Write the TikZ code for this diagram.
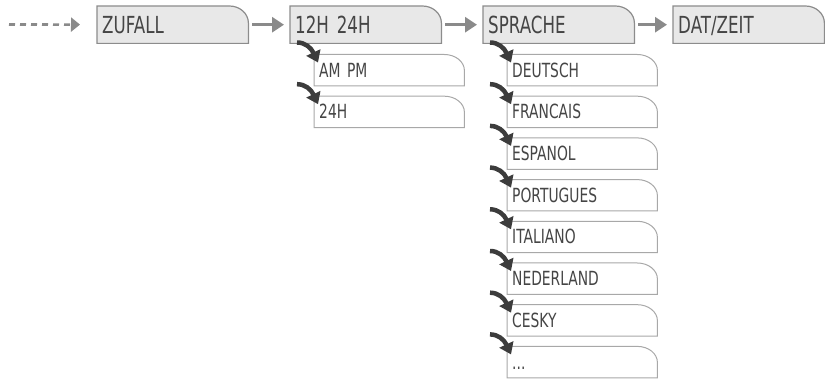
\documentclass[tikz,border=0pt]{standalone}
\usepackage{fontspec}
\newfontfamily\lcd[FakeStretch=0.71]{DejaVu Sans}
\usetikzlibrary{arrows.meta,backgrounds}
\definecolor{boxfill}{HTML}{E8E8E8}
\definecolor{boxline}{HTML}{8C8C8C}
\definecolor{subline}{HTML}{A8A8A8}
\definecolor{txt}{HTML}{454545}
\definecolor{flowc}{HTML}{8A8A8A}
\definecolor{curlc}{HTML}{3C3C3C}
\tikzset{
  mainnode/.style={rectangle, anchor=north west, inner xsep=5pt, inner ysep=0pt,
    text width=141pt, minimum height=37pt, align=left, text=txt,
    text height=17pt, text depth=0pt, font=\lcd\fontsize{23.5}{23.5}\selectfont},
  subnode/.style={rectangle, anchor=north west, inner xsep=5pt, inner ysep=0pt,
    text width=140pt, minimum height=31pt, align=left, text=txt,
    text height=14pt, text depth=0pt, font=\lcd\fontsize{19.5}{19.5}\selectfont},
  mainbox/.style={draw=boxline, fill=boxfill, line width=1.2pt},
  subbox/.style={draw=subline, fill=white, line width=1pt},
  flow/.style={draw=flowc, line width=2.8pt, shorten <=4pt, shorten >=6pt,
    -{Triangle[length=12pt,width=15pt]}},
  dashflow/.style={draw=flowc, line width=2.6pt, dash pattern=on 6pt off 5pt,
    shorten >=17pt, -{Triangle[length=9pt,width=14pt]}},
  curl/.style={draw=curlc, line width=4.5pt,
    -{Triangle[length=11pt,width=15pt]}}
}
\begin{document}
\begin{tikzpicture}[x=1pt,y=-1pt]
\useasboundingbox (0,0) rectangle (825,379);
\clip (0,0) rectangle (825,379);
% main boxes
\node[mainnode] (zufall)  at (97,6)  {ZUFALL};
\node[mainnode] (h1224)   at (290,6) {12H 24H};
\node[mainnode] (sprache) at (483,6) {SPRACHE};
\node[mainnode] (datzeit) at (673,6) {DAT/ZEIT};
% sub boxes 12H 24H
\node[subnode] (ampm) at (314,54.5) {AM PM};
\node[subnode] (h24)  at (314,96.2) {24H};
% sub boxes SPRACHE
\node[subnode] (deutsch)   at (507,54.5)  {DEUTSCH};
\node[subnode] (francais)  at (507,96.2)  {FRANCAIS};
\node[subnode] (espanol)   at (507,137.9) {ESPANOL};
\node[subnode] (portugues) at (507,179.6) {PORTUGUES};
\node[subnode] (italiano)  at (507,221.3) {ITALIANO};
\node[subnode] (nederland) at (507,263.0) {NEDERLAND};
\node[subnode] (cesky)     at (507,304.7) {CESKY};
\node[subnode] (more)      at (507,346.4) {...};
\begin{scope}[on background layer]
\foreach \n in {zufall,h1224,sprache,datzeit}
  \draw[mainbox] (\n.south west) -- (\n.north west) -- ([xshift=-19pt]\n.north east)
    arc[start angle=90,end angle=0,x radius=19pt,y radius=17pt] -- (\n.south east) -- cycle;
\foreach \n in {ampm,h24,deutsch,francais,espanol,portugues,italiano,nederland,cesky,more}
  \draw[subbox] (\n.south west) -- (\n.north west) -- ([xshift=-20pt]\n.north east)
    arc[start angle=90,end angle=0,x radius=20pt,y radius=16pt] -- (\n.south east) -- cycle;
\end{scope}
% flow arrows
\coordinate (start) at (9,24.5);
\draw[dashflow] (start) -- (zufall);
\draw[flow] (zufall) -- (h1224);
\draw[flow] (h1224) -- (sprache);
\draw[flow] (sprache) -- (datzeit);
% curled arrows
\foreach \n in {ampm,h24,deutsch,francais,espanol,portugues,italiano,nederland,cesky,more}
  \draw[curl] ([shift={(-17,-12)}]\n.north west)
    .. controls ([shift={(-9,-12)}]\n.north west) and ([shift={(-3,-7)}]\n.north west)
    .. ([shift={(4,8)}]\n.north west);
\end{tikzpicture}
\end{document}
